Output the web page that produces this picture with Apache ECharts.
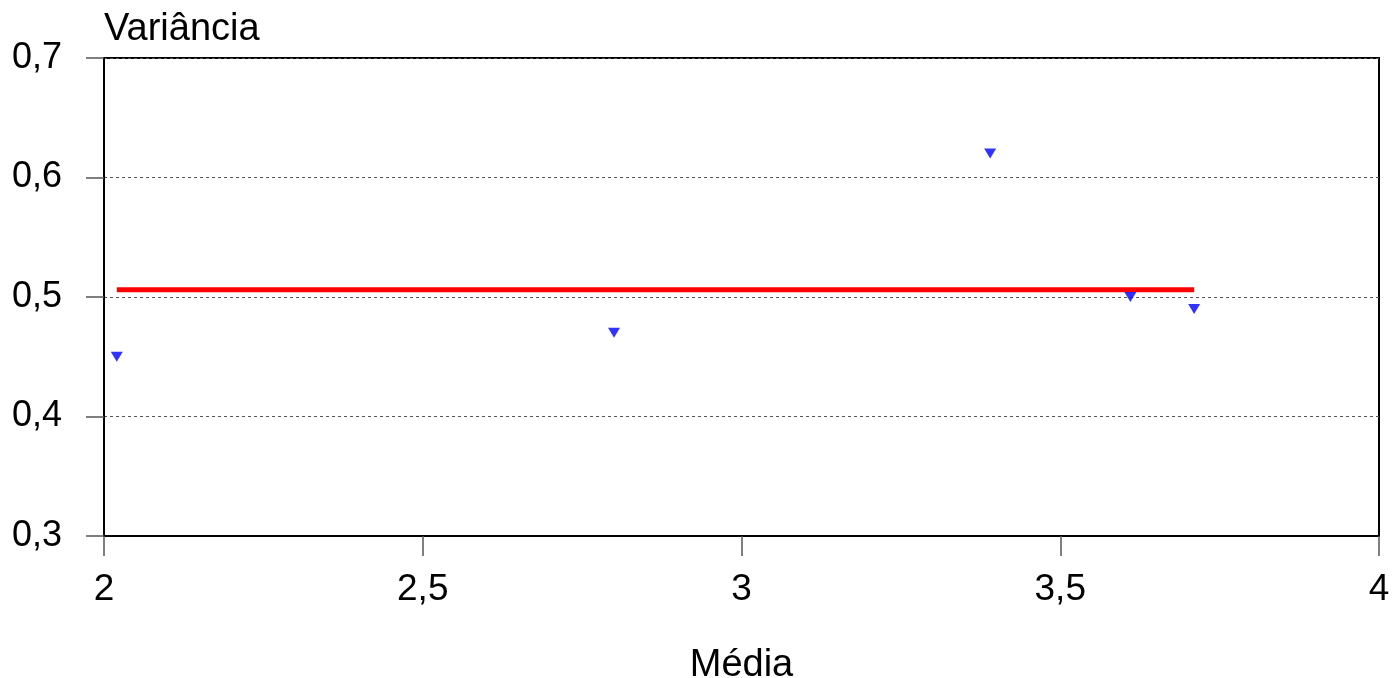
<!DOCTYPE html>
<html>
<head>
<meta charset="utf-8">
<script src="https://cdn.jsdelivr.net/npm/echarts@6/dist/echarts.min.js"></script>
<style>
    html, body { margin: 0; padding: 0; background: #fff; }
    #chart { width: 1393px; height: 678px; }
</style>
</head>
<body>
<div id="chart"></div>
<script>
    // pontos (média, variância)
    const mediaValues = [2.02, 2.8, 3.39, 3.61, 3.71];
    const varianciaValues = [0.45, 0.47, 0.62, 0.5, 0.49];
    // linha de referência
    const lineX = [2.02, 3.71];
    const lineY = [0.506, 0.506];

    const points = mediaValues.map((m, i) => [m, varianciaValues[i]]);
    const linePoints = lineX.map((x, i) => [x, lineY[i]]);

    const font = '"Liberation Sans", Arial, sans-serif';
    const comma = v => String(v).replace('.', ',');

    const myChart = echarts.init(document.getElementById('chart'));
    const option = {
        animation: false,
        grid: {
            left: 104,
            right: 14,
            top: 58,
            bottom: 142,
            outerBoundsMode: 'none',
            show: true,
            borderColor: '#000',
            borderWidth: 2
        },
        xAxis: {
            type: 'value',
            min: 2,
            max: 4,
            interval: 0.5,
            name: 'Média',
            nameLocation: 'middle',
            nameGap: 111,
            nameTextStyle: { fontFamily: font, fontSize: 38, color: '#000' },
            axisLine: { show: true, lineStyle: { color: '#000', width: 2 } },
            axisTick: { show: true, length: 20, lineStyle: { color: '#555', width: 1.5 } },
            axisLabel: {
                margin: 35,
                fontFamily: font,
                fontSize: 37,
                color: '#000',
                formatter: comma
            },
            splitLine: { show: false }
        },
        yAxis: {
            type: 'value',
            min: 0.3,
            max: 0.7,
            interval: 0.1,
            name: 'Variância',
            nameLocation: 'end',
            nameGap: 9,
            nameTextStyle: {
                fontFamily: font,
                fontSize: 38,
                color: '#000',
                align: 'left',
                verticalAlign: 'bottom'
            },
            axisLine: { show: true, lineStyle: { color: '#000', width: 2 } },
            axisTick: { show: true, length: 18, lineStyle: { color: '#555', width: 1.5 } },
            axisLabel: {
                margin: 42,
                fontFamily: font,
                fontSize: 36,
                color: '#000',
                padding: [4, 0, 0, 0],
                formatter: v => comma(Math.round(v * 10) / 10)
            },
            splitLine: {
                show: true,
                lineStyle: { color: '#555', type: [3, 3], width: 1 }
            }
        },
        series: [
            {
                type: 'line',
                data: linePoints,
                symbol: 'none',
                lineStyle: { color: '#ff0000', width: 5 },
                z: 2
            },
            {
                type: 'scatter',
                data: points,
                symbol: 'triangle',
                symbolRotate: 180,
                symbolSize: [12, 10],
                itemStyle: { color: '#0000ff' },
                z: 3
            }
        ]
    };
    myChart.setOption(option);
</script>
</body>
</html>
